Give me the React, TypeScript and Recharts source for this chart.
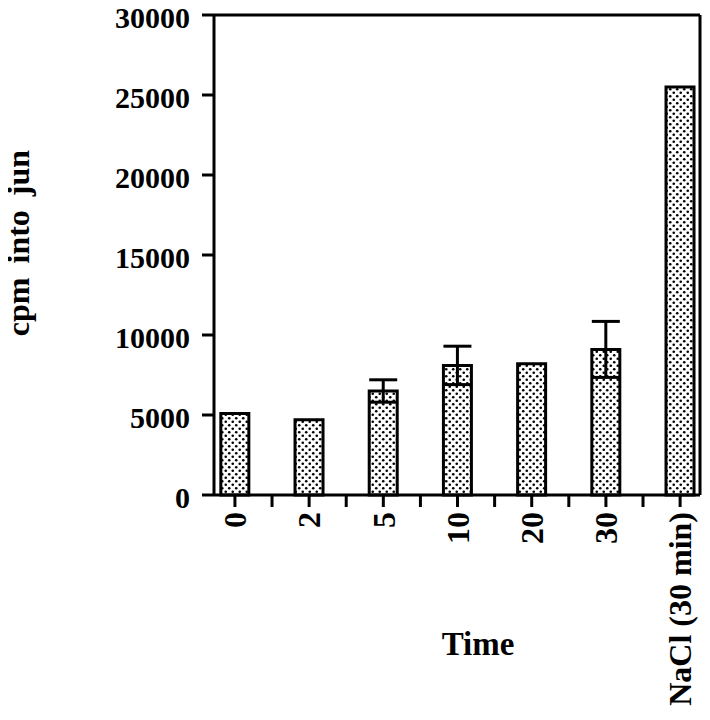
import React from "react";
import { BarChart, Bar, XAxis, YAxis, ErrorBar, ReferenceLine, Label } from "recharts";

const categories = ["0", "2", "5", "10", "20", "30", "NaCl (30 min)"];
const cpmValues = [5100, 4700, 6500, 8100, 8200, 9100, 25500];
const cpmErrors = [0, 0, 700, 1200, 0, 1750, 0];
const yTicks = [0, 5000, 10000, 15000, 20000, 25000, 30000];

const data = categories.map((name, i) => ({ pos: i, name, cpm: cpmValues[i], err: cpmErrors[i] }));
// major ticks on bars, minor ticks between them
const xTicks = categories.flatMap((_, i) => (i === 0 ? [0] : [i - 0.5, i]));
const X_MIN = -0.282;
const X_MAX = 6.268;

const FONT = "'Liberation Serif', 'Times New Roman', serif";

const XTick = ({ x, y, payload }: any) => {
  const v = payload.value;
  if (!Number.isInteger(v)) return null;
  const ty = y + 3;
  return (
    <text
      x={x}
      y={ty}
      transform={`rotate(-90, ${x}, ${ty})`}
      textAnchor="end"
      dy="0.35em"
      fontFamily={FONT}
      fontWeight="bold"
      fontSize={32}
      fill="#000"
    >
      {categories[v]}
    </text>
  );
};

const YTick = ({ x, y, payload }: any) => (
  <text
    x={x - 10}
    y={y}
    textAnchor="end"
    dy="0.42em"
    fontFamily={FONT}
    fontWeight="bold"
    fontSize={30}
    fill="#000"
  >
    {payload.value}
  </text>
);

const YTitle = ({ viewBox }: any) => {
  const cy = viewBox.y + viewBox.height / 2 - 12;
  const cx = 29;
  return (
    <text
      x={cx}
      y={cy}
      transform={`rotate(-90, ${cx}, ${cy})`}
      textAnchor="middle"
      fontFamily={FONT}
      fontWeight="bold"
      fontSize={32}
      wordSpacing={6}
      fill="#000"
    >
      cpm into jun
    </text>
  );
};

const XTitle = ({ viewBox }: any) => (
  <text
    x={viewBox.x + viewBox.width / 2 + 21}
    y={viewBox.y + 160}
    textAnchor="middle"
    fontFamily={FONT}
    fontWeight="bold"
    fontSize={33}
    fill="#000"
  >
    Time
  </text>
);

export default function App() {
  return (
    <div style={{ marginTop: -8, marginLeft: -8 }}>
      <svg width={0} height={0} style={{ position: "absolute" }}>
        <defs>
          <pattern id="dots" patternUnits="userSpaceOnUse" width={7} height={7}>
            <rect width={7} height={7} fill="#fff" />
            <circle cx={1.75} cy={1.75} r={1.3} fill="#000" />
            <circle cx={5.25} cy={5.25} r={1.3} fill="#000" />
          </pattern>
        </defs>
      </svg>
      <BarChart width={702} height={712} data={data} margin={{ top: 15, right: 2, bottom: 0, left: 0 }}>
        <XAxis
          dataKey="pos"
          type="number"
          domain={[X_MIN, X_MAX]}
          allowDataOverflow
          ticks={xTicks}
          interval={0}
          tick={<XTick />}
          tickSize={12}
          height={217}
          axisLine={{ stroke: "#000", strokeWidth: 3 }}
          tickLine={{ stroke: "#000", strokeWidth: 3 }}
        >
          <Label content={<XTitle />} />
        </XAxis>
        <YAxis
          type="number"
          domain={[0, 30000]}
          ticks={yTicks}
          interval={0}
          tick={<YTick />}
          tickSize={12}
          width={214}
          axisLine={{ stroke: "#000", strokeWidth: 3 }}
          tickLine={{ stroke: "#000", strokeWidth: 3 }}
        >
          <Label content={<YTitle />} />
        </YAxis>
        <ReferenceLine y={30000} stroke="#000" strokeWidth={3} />
        <ReferenceLine x={X_MAX} stroke="#000" strokeWidth={3} />
        <Bar dataKey="cpm" barSize={28} fill="url(#dots)" stroke="#000" strokeWidth={3} isAnimationActive={false}>
          <ErrorBar dataKey="err" width={14} stroke="#000" strokeWidth={3} direction="y" />
        </Bar>
      </BarChart>
    </div>
  );
}
